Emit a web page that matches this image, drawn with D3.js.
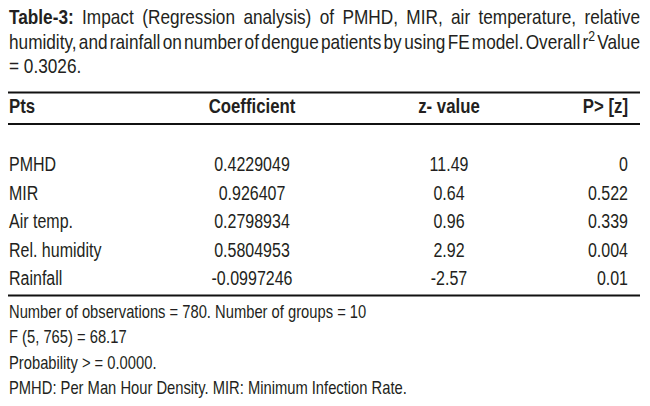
<!DOCTYPE html>
<html lang="en">
<head>
<meta charset="utf-8">
<title>Table-3</title>
<script src="https://d3js.org/d3.v7.min.js"></script>
<style>
  body { margin: 0; background: #fff; }
  svg text { font-family: "Liberation Sans", Arial, sans-serif; fill: #231f20; }
</style>
</head>
<body>
<div id="table"></div>
<script>
// table content
const headers = ["Pts", "Coefficient", "z- value", "P> [z]"];
const predictors = ["PMHD", "MIR", "Air temp.", "Rel. humidity", "Rainfall"];
const coefficients = [0.4229049, 0.926407, 0.2798934, 0.5804953, -0.0997246];
const zValues = [11.49, 0.64, 0.96, 2.92, -2.57];
const pValues = [0, 0.522, 0.339, 0.004, 0.01];

const titleLines = [
  [{t: "Table-3:", b: true}, "Impact", "(Regression", "analysis)", "of", "PMHD,", "MIR,", "air", "temperature,", "relative"],
  ["humidity,", "and", "rainfall", "on", "number", "of", "dengue", "patients", "by", "using", "FE", "model.", "Overall", {t: "r", sup: "2"}, "Value"],
  ["= 0.3026."]
];
const notes = [
  "Number of observations = 780. Number of groups = 10",
  "F (5, 765) = 68.17",
  "Probability > = 0.0000.",
  "PMHD: Per Man Hour Density. MIR: Minimum Infection Rate."
];

const width = 650, height = 406;
const left = 9, right = 640;

const svg = d3.select("#table").append("svg")
  .attr("width", width)
  .attr("height", height);

// squeeze text horizontally to get a condensed face
function put(sel, x, y, sx) {
  return sel.attr("transform", `translate(${x},${y}) scale(${sx},1)`);
}

// title, justified
const titleSx = 0.82;
const titleY = d3.scalePoint().domain(d3.range(titleLines.length)).range([24, 73]);
titleLines.forEach((words, li) => {
  const g = svg.append("g");
  const items = words.map(w => {
    const o = typeof w === "string" ? {t: w} : w;
    const txt = g.append("text")
      .attr("font-size", 21)
      .attr("font-weight", o.b ? "bold" : "normal");
    txt.append("tspan").text(o.t);
    if (o.sup) txt.append("tspan").attr("dy", -8).attr("font-size", 15).text(o.sup);
    return txt;
  });
  const widths = items.map(t => t.node().getBBox().width * titleSx);
  const justify = li < titleLines.length - 1;
  const gap = justify ? (right - left - d3.sum(widths)) / (items.length - 1) : 4;
  let x = left;
  items.forEach((t, i) => {
    put(t, x, titleY(li), titleSx);
    x += widths[i] + gap;
  });
});

// rules
const rules = [92.5, 124, 295.5];
svg.selectAll("line.rule")
  .data(rules)
  .enter()
  .append("line")
  .attr("class", "rule")
  .attr("x1", left - 1)
  .attr("x2", right)
  .attr("y1", d => d)
  .attr("y2", d => d)
  .attr("stroke", "#111")
  .attr("stroke-width", 2.2);

// columns
const colX = d3.scaleOrdinal().domain(headers).range([left, 252, 449, 628]);
const colAnchor = d3.scaleOrdinal().domain(headers).range(["start", "middle", "middle", "end"]);

svg.selectAll("text.header")
  .data(headers)
  .enter()
  .append("text")
  .attr("class", "header")
  .attr("text-anchor", d => colAnchor(d))
  .attr("font-size", 20)
  .attr("font-weight", "bold")
  .text(d => d)
  .each(function(d) { put(d3.select(this), colX(d), 113, 0.84); });

const rowY = d3.scalePoint().domain(predictors).range([171, 285]);
const rows = predictors.map((p, i) => [p, coefficients[i], zValues[i], pValues[i]]);

const row = svg.selectAll("g.row")
  .data(rows)
  .enter()
  .append("g")
  .attr("class", "row")
  .attr("transform", d => `translate(0,${rowY(d[0])})`);

row.selectAll("text")
  .data(d => d)
  .enter()
  .append("text")
  .attr("text-anchor", (d, i) => colAnchor(headers[i]))
  .attr("font-size", 19.5)
  .text(d => String(d))
  .each(function(d, i) { put(d3.select(this), colX(headers[i]), 0, 0.82); });

// notes under the table
const noteY = d3.scalePoint().domain(d3.range(notes.length)).range([318, 394]);
svg.selectAll("text.note")
  .data(notes)
  .enter()
  .append("text")
  .attr("class", "note")
  .attr("font-size", 18)
  .text(d => d)
  .each(function(d, i) { put(d3.select(this), left, noteY(i), 0.82); });
</script>
</body>
</html>
